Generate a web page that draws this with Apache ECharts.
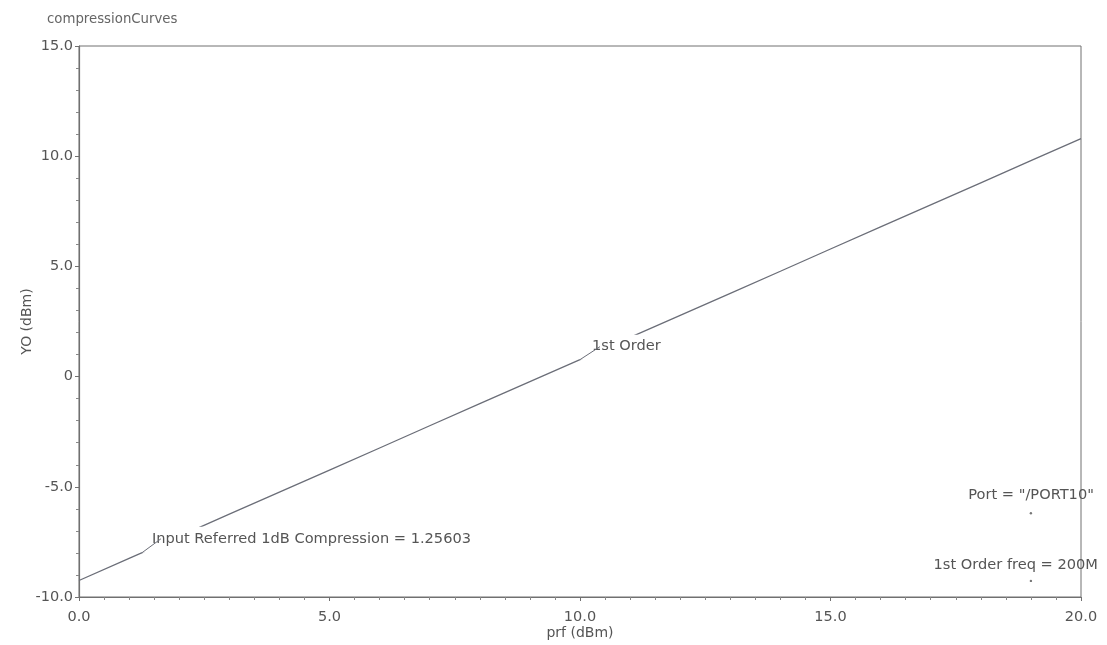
<!DOCTYPE html>
<html>
<head>
<meta charset="utf-8">
<title>compressionCurves</title>
<script src="https://cdn.jsdelivr.net/npm/echarts@6/dist/echarts.min.js"></script>
<style>
  html, body { margin: 0; padding: 0; background: #ffffff; }
  #chart { width: 1107px; height: 645px; }
</style>
</head>
<body>
<div id="chart"></div>
<script>
// Input power sweep (dBm) and fundamental output power (dBm)
const prf = [0, 1, 2, 3, 4, 5, 6, 7, 8, 9, 10, 11, 12, 13, 14, 15, 16, 17, 18, 19, 20];
const firstOrder = [-9.25, -8.25, -7.25, -6.24, -5.24, -4.24, -3.24, -2.23, -1.23, -0.23,
                    0.77, 1.78, 2.78, 3.78, 4.78, 5.79, 6.79, 7.79, 8.79, 9.80, 10.80];

// Axis tick labels
const xTickLabels = { 0: '0.0', 5: '5.0', 10: '10.0', 15: '15.0', 20: '20.0' };
const yTickLabels = { '-10': '-10.0', '-5': '-5.0', 0: '0', 5: '5.0', 10: '10.0', 15: '15.0' };

// Annotations
const compressionPoint = 1.25603;
const curveLabelX = 10;
const infoMarks = [
  { x: 19, y: -6.2, text: 'Port = "/PORT10"' },
  { x: 19, y: -9.27, text: '1st Order freq = 200M' }
];

const FONT = '"DejaVu Sans", Verdana, sans-serif';
const TXT = '#555555';
const AXIS = '#707070';
const FS = 14.6;

function interp(xs, ys, x) {
  for (let i = 0; i < xs.length - 1; i++) {
    if (x >= xs[i] && x <= xs[i + 1]) {
      const t = (x - xs[i]) / (xs[i + 1] - xs[i]);
      return ys[i] + t * (ys[i + 1] - ys[i]);
    }
  }
  return ys[ys.length - 1];
}

const chart = echarts.init(document.getElementById('chart'), null, { renderer: 'canvas' });

chart.setOption({
  animation: false,
  backgroundColor: '#ffffff',
  title: {
    text: 'compressionCurves',
    left: 42, top: 8,
    textStyle: { fontFamily: FONT, fontSize: 13.3, fontWeight: 'normal', color: '#666666' }
  },
  grid: {
    left: 79, right: 26, top: 46, bottom: 48,
    show: true, borderColor: AXIS, borderWidth: 1, backgroundColor: 'transparent'
  },
  xAxis: {
    type: 'value', min: 0, max: 20, interval: 5,
    name: 'prf (dBm)', nameLocation: 'middle', nameGap: 29, nameMoveOverlap: false,
    nameTextStyle: { fontFamily: FONT, fontSize: 14, color: TXT },
    axisLine: { onZero: false, lineStyle: { color: AXIS, width: 1.2 } },
    axisTick: { show: true, inside: false, length: 4, lineStyle: { color: AXIS } },
    minorTick: { show: true, splitNumber: 10, length: 3, lineStyle: { color: '#888888' } },
    splitLine: { show: false },
    axisLabel: {
      fontFamily: FONT, fontSize: 14.5, color: TXT, margin: 13,
      formatter: v => xTickLabels[v] !== undefined ? xTickLabels[v] : ''
    }
  },
  yAxis: {
    type: 'value', min: -10, max: 15, interval: 5,
    name: 'YO (dBm)', nameLocation: 'middle', nameGap: 45, nameMoveOverlap: false,
    nameTextStyle: { fontFamily: FONT, fontSize: 14, color: TXT },
    axisLine: { show: true, onZero: false, lineStyle: { color: AXIS, width: 1.2 } },
    axisTick: { show: true, inside: false, length: 4, lineStyle: { color: AXIS } },
    minorTick: { show: true, splitNumber: 5, length: 3, lineStyle: { color: '#888888' } },
    splitLine: { show: false },
    axisLabel: {
      fontFamily: FONT, fontSize: 14.5, color: TXT, margin: 6,
      formatter: v => yTickLabels[v] !== undefined ? yTickLabels[v] : ''
    }
  },
  series: [{
    name: '1st Order',
    type: 'line',
    data: prf.map((x, i) => [x, firstOrder[i]]),
    showSymbol: false,
    symbol: 'none',
    lineStyle: { color: '#6b6e78', width: 1.3 },
    z: 2
  }]
});

// Annotation labels, placed through the chart's coordinate system
function px(x, y) { return chart.convertToPixel({ gridIndex: 0 }, [x, y]); }

const graphics = [];

function boxedLabel(xData, text, pad, leadTo) {
  const p = px(xData, interp(prf, firstOrder, xData));
  graphics.push({
    type: 'text', z: 100,
    x: p[0], y: p[1],
    style: {
      text: text,
      font: FS + 'px ' + FONT,
      fill: TXT,
      align: 'left', verticalAlign: 'bottom',
      backgroundColor: '#ffffff',
      padding: pad
    }
  });
  graphics.push({
    type: 'line', z: 101,
    shape: { x1: p[0], y1: p[1], x2: p[0] + leadTo[0], y2: p[1] + leadTo[1] },
    style: { stroke: '#6b6e78', lineWidth: 1 }
  });
}

boxedLabel(compressionPoint, 'Input Referred 1dB Compression = 1.25603', [5, 6, 6, 10], [19, -14]);
boxedLabel(curveLabelX, '1st Order', [4, 6, 6, 12], [20, -13]);

infoMarks.forEach((m, i) => {
  const p = px(m.x, m.y);
  graphics.push({
    type: 'circle', z: 100,
    shape: { cx: p[0], cy: p[1], r: 1.2 },
    style: { fill: '#777777' }
  });
  graphics.push({
    type: 'text', z: 100,
    x: p[0] + (i === 0 ? 63 : 67), y: p[1] - (i === 0 ? 18 : 16),
    style: {
      text: m.text,
      font: FS + 'px ' + FONT,
      fill: TXT,
      align: 'right', verticalAlign: 'middle'
    }
  });
});

chart.setOption({ graphic: graphics });
</script>
</body>
</html>
